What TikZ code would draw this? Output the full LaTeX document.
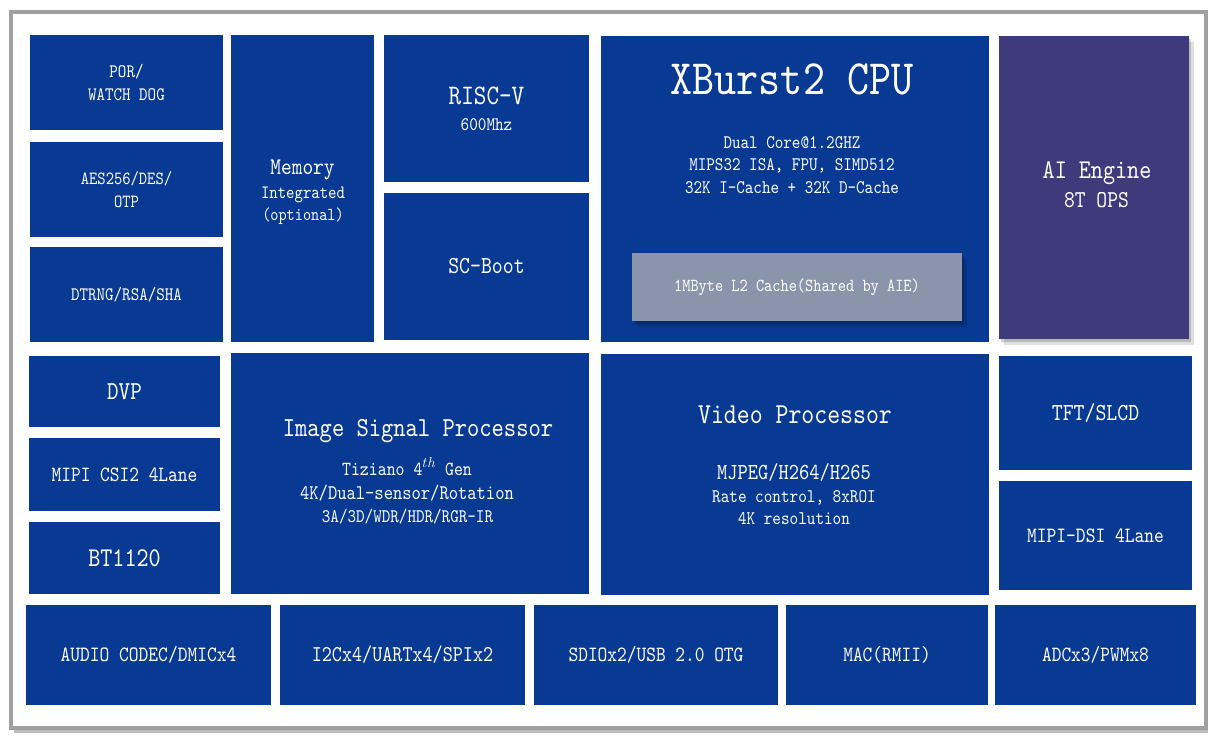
\documentclass[tikz,border=0pt]{standalone}
\usepackage{fontspec}
\setmonofont[FakeStretch=0.85]{lmmono10-regular.otf}
\usepackage{tikz}
\usetikzlibrary{shadows}

\definecolor{chipblue}{RGB}{8,58,147}
\definecolor{aiviolet}{RGB}{62,58,123}
\definecolor{cachegray}{RGB}{138,149,171}
\definecolor{framegray}{RGB}{160,160,160}

% mono font is squeezed to 85%, so the size is raised to keep the width
\newcommand{\chipfs}[2]{\fontsize{\dimexpr #1pt*100/85\relax}{#2}\selectfont}

\tikzset{
  block/.style = {fill = chipblue, text = white, inner sep = 0pt, outer sep = 0pt,
                  anchor = north west, align = center},
  txt/.style = {text = white, inner sep = 0pt, anchor = base},
  softshadow/.style = {drop shadow = {shadow xshift = 2pt, shadow yshift = -3pt, fill = black, opacity = 0.18},
                       drop shadow = {shadow xshift = 5pt, shadow yshift = -6pt, fill = black, opacity = 0.12}}
}

\begin{document}
\begin{tikzpicture}[x = 1pt, y = -1pt]
        \useasboundingbox (0,0) rectangle (1217,741);

        % outer frame
        \draw [framegray!70, line width = 3pt] (14,731) -- (1208,731);
        \draw [framegray, line width = 4pt] (11,12.5) rectangle (1206,728);

        % security column
        \node [block, minimum width = 193, minimum height = 95, font = \ttfamily\chipfs{16.2}{22.5}] (por) at (30,35) {POR/\\WATCH DOG};
        \node [block, minimum width = 193, minimum height = 95, font = \ttfamily\chipfs{15.8}{22.5}] (aes) at (30,142) {AES256/DES/\\OTP};
        \node [block, minimum width = 193, minimum height = 95, font = \ttfamily\chipfs{16.2}{22.5}] (dtrng) at (30,247) {DTRNG/RSA/SHA};

        % memory, risc-v, boot
        \node [block, minimum width = 143, minimum height = 307] (mem) at (231,35) {};
        \node [txt, font = \ttfamily\chipfs{20.4}{24}] (memt) at (302.5,174) {Memory};
        \node [txt, font = \ttfamily\chipfs{16}{20}] (memi) at (303,198) {Integrated};
        \node [txt, font = \ttfamily\chipfs{15.5}{20}] (memo) at (303,220) {(optional)};

        \node [block, minimum width = 205, minimum height = 147] (riscv) at (384,35) {};
        \node [txt, font = \ttfamily\chipfs{24}{28}] (riscvt) at (486.5,105) {RISC-V};
        \node [txt, font = \ttfamily\chipfs{16.4}{20}] (riscvf) at (486.5,130) {600Mhz};
        \node [block, minimum width = 205, minimum height = 147, font = \ttfamily\chipfs{20.8}{24}] (scboot) at (384,193) {SC-Boot};

        % cpu
        \node [block, minimum width = 388, minimum height = 306] (cpu) at (601,36) {};
        \node [txt, font = \ttfamily\chipfs{42}{50}] (cput) at (792,95) {XBurst2 CPU};
        \node [txt, font = \ttfamily\chipfs{16.3}{20}] (cpua) at (792,148) {Dual Core@1.2GHZ};
        \node [txt, font = \ttfamily\chipfs{16.3}{20}] (cpub) at (792,170) {MIPS32 ISA, FPU, SIMD512};
        \node [txt, font = \ttfamily\chipfs{16.3}{20}] (cpuc) at (792,193) {32K I-Cache + 32K D-Cache};
        \node [block, fill = cachegray, softshadow, minimum width = 330, minimum height = 68,
               font = \ttfamily\chipfs{15.6}{20}] (cache) at (632,253) {1MByte L2 Cache(Shared by AIE)};

        % ai engine
        \node [block, fill = aiviolet, softshadow, minimum width = 190, minimum height = 303] (aie) at (999,36) {};
        \node [txt, font = \ttfamily\chipfs{23}{28}] (aiet) at (1097,178) {AI Engine};
        \node [txt, font = \ttfamily\chipfs{20.6}{24}] (aieo) at (1096.5,207) {8T OPS};

        % camera inputs
        \node [block, minimum width = 191, minimum height = 71, font = \ttfamily\chipfs{22}{26}] (dvp) at (29,356) {DVP};
        \node [block, minimum width = 191, minimum height = 73, font = \ttfamily\chipfs{18.5}{22}] (csi) at (29,438) {MIPI CSI2 4Lane};
        \node [block, minimum width = 191, minimum height = 72, font = \ttfamily\chipfs{23}{26}] (bt) at (29,522) {BT1120};

        % isp
        \node [block, minimum width = 358, minimum height = 241] (isp) at (231,353) {};
        \node [txt, font = \ttfamily\chipfs{23.4}{28}] (ispt) at (418,436) {Image Signal Processor};
        \node [txt, font = \ttfamily\chipfs{17}{20}] (ispa) at (407,475) {Tiziano 4$^{th}$ Gen};
        \node [txt, font = \ttfamily\chipfs{17.7}{20}] (ispb) at (407,499) {4K/Dual-sensor/Rotation};
        \node [txt, font = \ttfamily\chipfs{16.3}{20}] (ispc) at (407.5,522) {3A/3D/WDR/HDR/RGR-IR};

        % video
        \node [block, minimum width = 388, minimum height = 241] (vpu) at (601,354) {};
        \node [txt, font = \ttfamily\chipfs{24.6}{28}] (vput) at (795,423) {Video Processor};
        \node [txt, font = \ttfamily\chipfs{19.5}{22}] (vpua) at (794,479) {MJPEG/H264/H265};
        \node [txt, font = \ttfamily\chipfs{16.4}{20}] (vpub) at (794,502) {Rate control, 8xROI};
        \node [txt, font = \ttfamily\chipfs{16.4}{20}] (vpuc) at (794,524) {4K resolution};

        % display outputs
        \node [block, minimum width = 193, minimum height = 114, font = \ttfamily\chipfs{20.8}{24}] (tft) at (999,356) {TFT/SLCD};
        \node [block, minimum width = 193, minimum height = 109, font = \ttfamily\chipfs{18.6}{22}] (dsi) at (999,481) {MIPI-DSI 4Lane};

        % peripherals
        \node [block, minimum width = 245, minimum height = 100, font = \ttfamily\chipfs{18.6}{22}] (audio) at (26,605) {AUDIO CODEC/DMICx4};
        \node [block, minimum width = 245, minimum height = 100, font = \ttfamily\chipfs{19.2}{22}] (i2c) at (280,605) {I2Cx4/UARTx4/SPIx2};
        \node [block, minimum width = 244, minimum height = 100, font = \ttfamily\chipfs{18.5}{22}] (sdio) at (534,605) {SDIOx2/USB 2.0 OTG};
        \node [block, minimum width = 202, minimum height = 100, font = \ttfamily\chipfs{18.5}{22}] (mac) at (786,605) {MAC(RMII)};
        \node [block, minimum width = 201, minimum height = 100, font = \ttfamily\chipfs{18.5}{22}] (adc) at (995,605) {ADCx3/PWMx8};
    \end{tikzpicture}
\end{document}
